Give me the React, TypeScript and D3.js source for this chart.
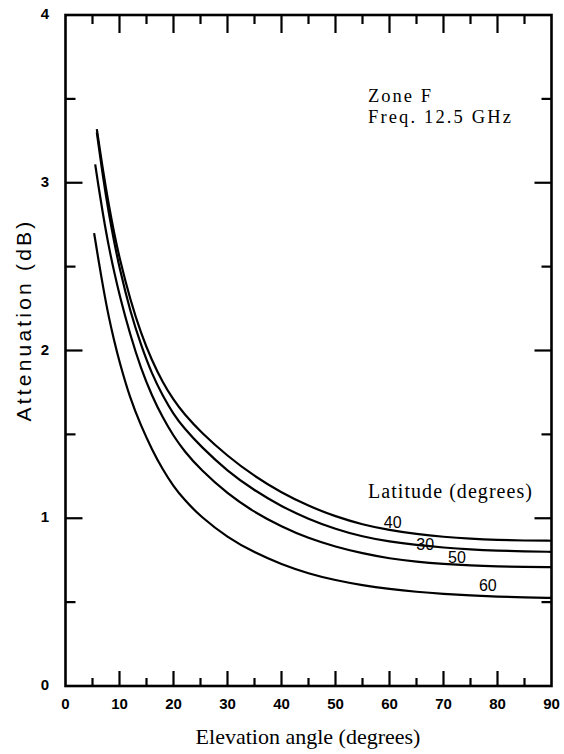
import React from 'react';
import * as d3 from 'd3';

// elevation angle (deg) -> attenuation (dB)
const elev40 = [5.8, 7, 8, 9, 10, 12, 14, 16, 18, 20, 22, 25, 30, 35, 40, 45, 50, 55, 60, 65, 70, 75, 80, 85, 90];
const att40 = [3.32, 3.06, 2.87, 2.7, 2.55, 2.3, 2.1, 1.94, 1.81, 1.705, 1.62, 1.515, 1.37, 1.25, 1.152, 1.073, 1.01, 0.962, 0.929, 0.905, 0.889, 0.878, 0.871, 0.867, 0.866];

const elev30 = [5.8, 7, 8, 9, 10, 12, 14, 16, 18, 20, 22, 25, 30, 35, 40, 45, 50, 55, 60, 65, 70, 75, 80, 85, 90];
const att30 = [3.3, 3.02, 2.82, 2.65, 2.49, 2.23, 2.03, 1.86, 1.73, 1.62, 1.535, 1.43, 1.28, 1.165, 1.07, 0.995, 0.935, 0.89, 0.86, 0.84, 0.825, 0.814, 0.807, 0.802, 0.8];

const elev50 = [5.5, 6, 7, 8, 9, 10, 12, 14, 16, 18, 20, 22, 25, 30, 35, 40, 45, 50, 55, 60, 65, 70, 75, 80, 85, 90];
const att50 = [3.11, 3.0, 2.8, 2.62, 2.47, 2.33, 2.09, 1.89, 1.73, 1.6, 1.49, 1.4, 1.29, 1.145, 1.035, 0.95, 0.88, 0.83, 0.79, 0.76, 0.74, 0.727, 0.718, 0.713, 0.71, 0.709];

const elev60 = [5.3, 6, 7, 8, 9, 10, 12, 14, 16, 18, 20, 22, 25, 30, 35, 40, 45, 50, 55, 60, 65, 70, 75, 80, 85, 90];
const att60 = [2.7, 2.56, 2.37, 2.2, 2.06, 1.93, 1.71, 1.55, 1.41, 1.29, 1.19, 1.11, 1.01, 0.885, 0.795, 0.725, 0.67, 0.63, 0.6, 0.578, 0.561, 0.549, 0.54, 0.533, 0.528, 0.525];

const latitudes = ['40', '30', '50', '60'];
// where each latitude label sits: elevation, and a nudge above the curve in px
const labelElev = [60.6, 66.6, 72.5, 78.2];
const labelLift = [7, 0, 6, 9];

const xTickLabels = [0, 10, 20, 30, 40, 50, 60, 70, 80, 90];
const yTickLabels = [0, 1, 2, 3, 4];

const W = 564;
const H = 754;

export default function App() {
  const x = d3.scaleLinear().domain([0, 90]).range([65.5, 551.5]);
  const y = d3.scaleLinear().domain([0, 4]).range([686, 15]);

  const series = [
    { lat: latitudes[0], e: elev40, a: att40 },
    { lat: latitudes[1], e: elev30, a: att30 },
    { lat: latitudes[2], e: elev50, a: att50 },
    { lat: latitudes[3], e: elev60, a: att60 },
  ];

  const line = d3
    .line<[number, number]>()
    .x(d => x(d[0]))
    .y(d => y(d[1]))
    .curve(d3.curveBasis);

  const xMinor = d3.range(5, 90, 5);
  const yMinor = d3.range(0.5, 4, 0.5);
  const sans = '"Liberation Sans", Arial, sans-serif';
  const serif = '"Liberation Serif", "Times New Roman", serif';

  return (
    <svg
      width={W}
      height={H}
      style={{ position: 'absolute', left: 0, top: 0, background: '#fff' }}
    >
      {/* frame */}
      <rect
        x={x(0)}
        y={y(4)}
        width={x(90) - x(0)}
        height={y(0) - y(4)}
        fill="none"
        stroke="#000"
        strokeWidth={2.6}
      />

      {/* x ticks, bottom (up) and top (down) */}
      {xMinor.map(v => {
        const major = v % 10 === 0;
        return (
          <g key={'xt' + v} stroke="#000" strokeWidth={2.2}>
            <line x1={x(v)} x2={x(v)} y1={y(0)} y2={y(0) - (major ? 15 : 8)} />
            <line x1={x(v)} x2={x(v)} y1={y(4)} y2={y(4) + (major ? 18 : 9)} />
          </g>
        );
      })}

      {/* y ticks, left (right) and right (left) */}
      {yMinor.map(v => {
        const major = v % 1 === 0;
        return (
          <g key={'yt' + v} stroke="#000" strokeWidth={2.2}>
            <line x1={x(0)} x2={x(0) + (major ? 17 : 10)} y1={y(v)} y2={y(v)} />
            <line x1={x(90)} x2={x(90) - (major ? 17 : 10)} y1={y(v)} y2={y(v)} />
          </g>
        );
      })}

      {/* tick labels */}
      {xTickLabels.map(v => (
        <text
          key={'xl' + v}
          x={x(v)}
          y={y(0) + 23}
          textAnchor="middle"
          fontFamily={sans}
          fontWeight="bold"
          fontSize={15}
        >
          {v}
        </text>
      ))}
      {yTickLabels.map(v => (
        <text
          key={'yl' + v}
          x={45}
          y={y(v) + 4}
          textAnchor="middle"
          fontFamily={sans}
          fontWeight="bold"
          fontSize={15}
        >
          {v}
        </text>
      ))}

      {/* curves */}
      {series.map(s => (
        <path
          key={'c' + s.lat}
          d={line(s.e.map((e, i) => [e, s.a[i]] as [number, number])) || ''}
          fill="none"
          stroke="#000"
          strokeWidth={2.2}
        />
      ))}

      {/* curve labels */}
      {series.map((s, i) => {
        const e = labelElev[i];
        const v = d3.scaleLinear().domain(s.e).range(s.a)(e);
        return (
          <text
            key={'lab' + s.lat}
            x={x(e)}
            y={y(v) - labelLift[i]}
            textAnchor="middle"
            dominantBaseline="middle"
            fontFamily={sans}
            fontSize={16}
          >
            {s.lat}
          </text>
        );
      })}

      {/* annotations */}
      <text
        x={368}
        y={498}
        fontFamily={serif}
        fontSize={20}
        textLength={164}
        lengthAdjust="spacing"
      >
        Latitude (degrees)
      </text>
      <text
        x={368}
        y={102}
        fontFamily={serif}
        fontSize={18.5}
        textLength={63}
        lengthAdjust="spacing"
      >
        Zone F
      </text>
      <text
        x={368}
        y={123}
        fontFamily={serif}
        fontSize={18.5}
        textLength={143}
        lengthAdjust="spacing"
      >
        Freq. 12.5 GHz
      </text>

      {/* axis titles */}
      <text
        x={308}
        y={744}
        textAnchor="middle"
        fontFamily={serif}
        fontSize={22}
      >
        Elevation angle (degrees)
      </text>
      <text
        transform="translate(31, 320) rotate(-90)"
        textAnchor="middle"
        fontFamily={sans}
        fontSize={21}
        letterSpacing={3.2}
      >
        Attenuation (dB)
      </text>
    </svg>
  );
}
